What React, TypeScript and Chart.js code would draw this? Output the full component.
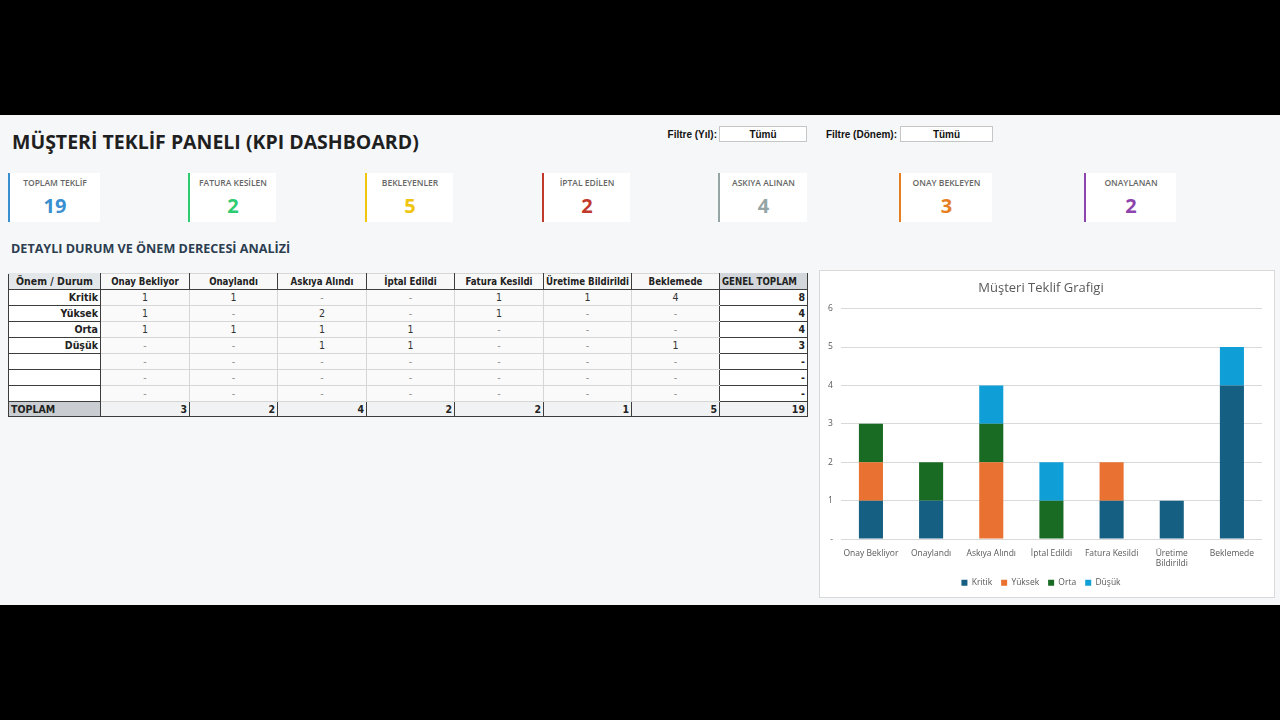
import React, { useEffect, useRef } from "react";
import { Chart, registerables } from "chart.js";

Chart.register(...registerables);

// ---------- DATA ----------
const statuses = [
  "Onay Bekliyor",
  "Onaylandı",
  "Askıya Alındı",
  "İptal Edildi",
  "Fatura Kesildi",
  "Üretime Bildirildi",
  "Beklemede",
];
const severities = ["Kritik", "Yüksek", "Orta", "Düşük"];
const kritik = [1, 1, 0, 0, 1, 1, 4];
const yuksek = [1, 0, 2, 0, 1, 0, 0];
const orta = [1, 1, 1, 1, 0, 0, 0];
const dusuk = [0, 0, 1, 1, 0, 0, 1];
const severityColors = ["#156082", "#E97132", "#196B24", "#0F9ED5"];
const yTicks = [0, 1, 2, 3, 4, 5, 6];

const kpiLabels = [
  "TOPLAM TEKLİF",
  "FATURA KESİLEN",
  "BEKLEYENLER",
  "İPTAL EDİLEN",
  "ASKIYA ALINAN",
  "ONAY BEKLEYEN",
  "ONAYLANAN",
];
const kpiValues = [19, 2, 5, 2, 4, 3, 2];
const kpiColors = ["#3a8fd0", "#2ecc71", "#f1c40f", "#c0392b", "#95a5a6", "#e67e22", "#8e44ad"];

// layout (not data)
const kpiBoxes: [number, number][] = [
  [8, 92],
  [188, 88],
  [365, 88],
  [542, 88],
  [718, 89],
  [899, 93],
  [1084, 92],
];
const colWidths = [92, 89, 88, 89, 88, 89, 88, 88, 88];

const seriesList = [kritik, yuksek, orta, dusuk];

const TABLE_FONT = '"Liberation Sans Narrow", "DejaVu Sans Condensed", Roboto, sans-serif';
const UI_FONT = '"Open Sans", "Noto Sans", sans-serif';

function fmt(v: number) {
  return v === 0 ? "-" : String(v);
}

function ChartBox() {
  const ref = useRef<HTMLCanvasElement | null>(null);
  useEffect(() => {
    if (!ref.current) return;
    const chart = new Chart(ref.current, {
      type: "bar",
      data: {
        labels: statuses,
        datasets: severities.map((s, i) => ({
          label: s,
          data: seriesList[i],
          backgroundColor: severityColors[i],
          borderWidth: 0,
          barPercentage: 0.4,
          categoryPercentage: 1,
        })),
      },
      options: {
        animation: false,
        responsive: false,
        maintainAspectRatio: false,
        layout: { padding: { left: 0, right: 12, top: 0, bottom: 0 } },
        plugins: {
          title: {
            display: true,
            text: "Müşteri Teklif Grafigi",
            color: "#595959",
            font: { size: 13, family: UI_FONT, weight: "normal" as any },
            padding: { top: 9, bottom: 13 },
          },
          legend: {
            position: "bottom",
            labels: {
              boxWidth: 6,
              boxHeight: 6,
              color: "#595959",
              font: { size: 8.5, family: UI_FONT },
              padding: 9,
            },
          },
          tooltip: { enabled: false },
        },
        scales: {
          x: {
            stacked: true,
            grid: { display: false },
            border: { display: false },
            ticks: {
              color: "#595959",
              font: { size: 8.5, family: UI_FONT },
              maxRotation: 0,
              autoSkip: false,
              padding: 1,
              callback: function (this: any, v: any) {
                const l = statuses[v as number];
                return l.length > 15 ? l.split(" ") : l;
              },
            },
          },
          y: {
            stacked: true,
            min: yTicks[0],
            max: yTicks[yTicks.length - 1],
            border: { display: false },
            grid: { color: "#d9d9d9", drawTicks: false },
            ticks: {
              stepSize: 1,
              color: "#595959",
              font: { size: 8.5, family: UI_FONT },
              padding: 8,
              callback: (v: any) => (v === 0 ? "-" : String(v)),
            },
          },
        },
      },
    });
    return () => chart.destroy();
  }, []);
  return (
    <div
      style={{
        position: "absolute",
        left: 819,
        top: 270,
        width: 456,
        height: 328,
        background: "#fff",
        border: "1px solid #d9d9d9",
        boxSizing: "border-box",
      }}
    >
      <canvas ref={ref} width={454} height={326} style={{ display: "block" }} />
    </div>
  );
}

const abs = (s: React.CSSProperties): React.CSSProperties => ({ position: "absolute", ...s });

export default function App() {
  const colTotals = statuses.map((_, c) => seriesList.reduce((a, s) => a + s[c], 0));
  const rowTotals = seriesList.map((s) => s.reduce((a, b) => a + b, 0));
  const grand = rowTotals.reduce((a, b) => a + b, 0);

  const dark = "1px solid #3d3d3d";
  const light = "1px solid #d6d6d6";

  const cell = (extra: React.CSSProperties, h = 15): React.CSSProperties => ({
    height: h,
    padding: "0 2px",
    fontSize: 10.5,
    lineHeight: "13px",
    whiteSpace: "nowrap",
    overflow: "hidden",
    ...extra,
  });

  const bodyRows: { label: string; vals: number[]; total: number }[] = [];
  severities.forEach((s, i) => bodyRows.push({ label: s, vals: seriesList[i], total: rowTotals[i] }));
  for (let k = 0; k < 3; k++) bodyRows.push({ label: "", vals: statuses.map(() => 0), total: 0 });

  const filterText: React.CSSProperties = {
    fontSize: 10,
    fontWeight: 700,
    fontFamily: '"Liberation Sans", Arial, sans-serif',
    color: "#111",
  };

  return (
    <div
      style={{
        position: "fixed",
        left: 0,
        top: 0,
        width: 1280,
        height: 720,
        background: "#000",
        overflow: "hidden",
        fontFamily: UI_FONT,
      }}
    >
      <div style={abs({ left: 0, top: 115, width: 1280, height: 490, background: "#f6f7f9" })} />

      <div
        style={abs({
          left: 12,
          top: 129,
          fontSize: 19.5,
          fontWeight: 700,
          color: "#1f1f1f",
          lineHeight: "26px",
          whiteSpace: "nowrap",
          fontFamily: UI_FONT,
        })}
      >
        MÜŞTERİ TEKLİF PANELI (KPI DASHBOARD)
      </div>

      {/* filters */}
      <div style={abs({ left: 600, width: 117, top: 127, textAlign: "right", lineHeight: "15px", ...filterText })}>
        Filtre (Yıl):
      </div>
      <div
        style={abs({
          left: 719,
          top: 126,
          width: 88,
          height: 16,
          background: "#fff",
          border: "1px solid #c6c6c6",
          boxSizing: "border-box",
          textAlign: "center",
          lineHeight: "15px",
          ...filterText,
        })}
      >
        Tümü
      </div>
      <div style={abs({ left: 780, width: 117, top: 127, textAlign: "right", lineHeight: "15px", ...filterText })}>
        Filtre (Dönem):
      </div>
      <div
        style={abs({
          left: 900,
          top: 126,
          width: 93,
          height: 16,
          background: "#fff",
          border: "1px solid #c6c6c6",
          boxSizing: "border-box",
          textAlign: "center",
          lineHeight: "15px",
          ...filterText,
        })}
      >
        Tümü
      </div>

      {/* KPI cards */}
      {kpiLabels.map((l, i) => (
        <div
          key={l}
          style={abs({
            left: kpiBoxes[i][0],
            top: 173,
            width: kpiBoxes[i][1],
            height: 49,
            background: "#fff",
            borderLeft: `2px solid ${kpiColors[i]}`,
            boxSizing: "border-box",
            textAlign: "center",
          })}
        >
          <div style={{ fontSize: 8.5, color: "#666", marginTop: 4, lineHeight: "12px", fontWeight: 600 }}>{l}</div>
          <div style={{ fontSize: 20, fontWeight: 700, color: kpiColors[i], lineHeight: "24px", marginTop: 5 }}>
            {kpiValues[i]}
          </div>
        </div>
      ))}

      <div
        style={abs({
          left: 11,
          top: 241,
          fontSize: 12.6,
          fontWeight: 700,
          color: "#2c3e50",
          lineHeight: "16px",
          whiteSpace: "nowrap",
        })}
      >
        DETAYLI DURUM VE ÖNEM DERECESİ ANALİZİ
      </div>

      {/* table */}
      <table
        style={abs({
          left: 8,
          top: 273,
          width: 799,
          borderCollapse: "collapse",
          tableLayout: "fixed",
          fontFamily: TABLE_FONT,
          color: "#222",
        })}
      >
        <colgroup>
          {colWidths.map((w, i) => (
            <col key={i} style={{ width: w }} />
          ))}
        </colgroup>
        <tbody>
          <tr>
            <td style={cell({ background: "#e4e7ea", border: dark, borderTop: "1px solid #e4e7ea", fontWeight: 700, textAlign: "center" })}>
              Önem / Durum
            </td>
            {statuses.map((s) => (
              <td
                key={s}
                style={cell({
                  background: "#f8f8f8",
                  border: dark,
                  borderTop: light,
                  fontWeight: 700,
                  textAlign: "center",
                  fontSize: 9.6,
                  padding: 0,
                })}
              >
                {s}
              </td>
            ))}
            <td
              style={cell({
                background: "#d3d7db",
                border: dark,
                borderTop: "1px solid #d3d7db",
                fontWeight: 700,
                textAlign: "left",
                fontSize: 9.6,
              })}
            >
              GENEL TOPLAM
            </td>
          </tr>
          {bodyRows.map((r, ri) => (
            <tr key={ri}>
              <td style={cell({ background: "#fff", border: dark, fontWeight: 700, textAlign: "right" })}>{r.label}</td>
              {r.vals.map((v, ci) => (
                <td
                  key={ci}
                  style={cell({
                    background: "#fafafa",
                    borderTop: light,
                    borderBottom: light,
                    borderLeft: ci === 0 ? dark : light,
                    borderRight: ci === r.vals.length - 1 ? dark : light,
                    textAlign: "center",
                    color: v === 0 ? "#8a8a8a" : "#333",
                  })}
                >
                  {fmt(v)}
                </td>
              ))}
              <td style={cell({ background: "#fff", border: dark, fontWeight: 700, textAlign: "right" })}>{fmt(r.total)}</td>
            </tr>
          ))}
          <tr>
            <td style={cell({ background: "#c9cdd1", border: dark, fontWeight: 700, textAlign: "left" }, 14)}>TOPLAM</td>
            {colTotals.map((v, ci) => (
              <td key={ci} style={cell({ background: "#f1f2f3", border: dark, fontWeight: 700, textAlign: "right" }, 14)}>
                {fmt(v)}
              </td>
            ))}
            <td style={cell({ background: "#f1f2f3", border: dark, fontWeight: 700, textAlign: "right" }, 14)}>{fmt(grand)}</td>
          </tr>
        </tbody>
      </table>

      <ChartBox />
    </div>
  );
}
